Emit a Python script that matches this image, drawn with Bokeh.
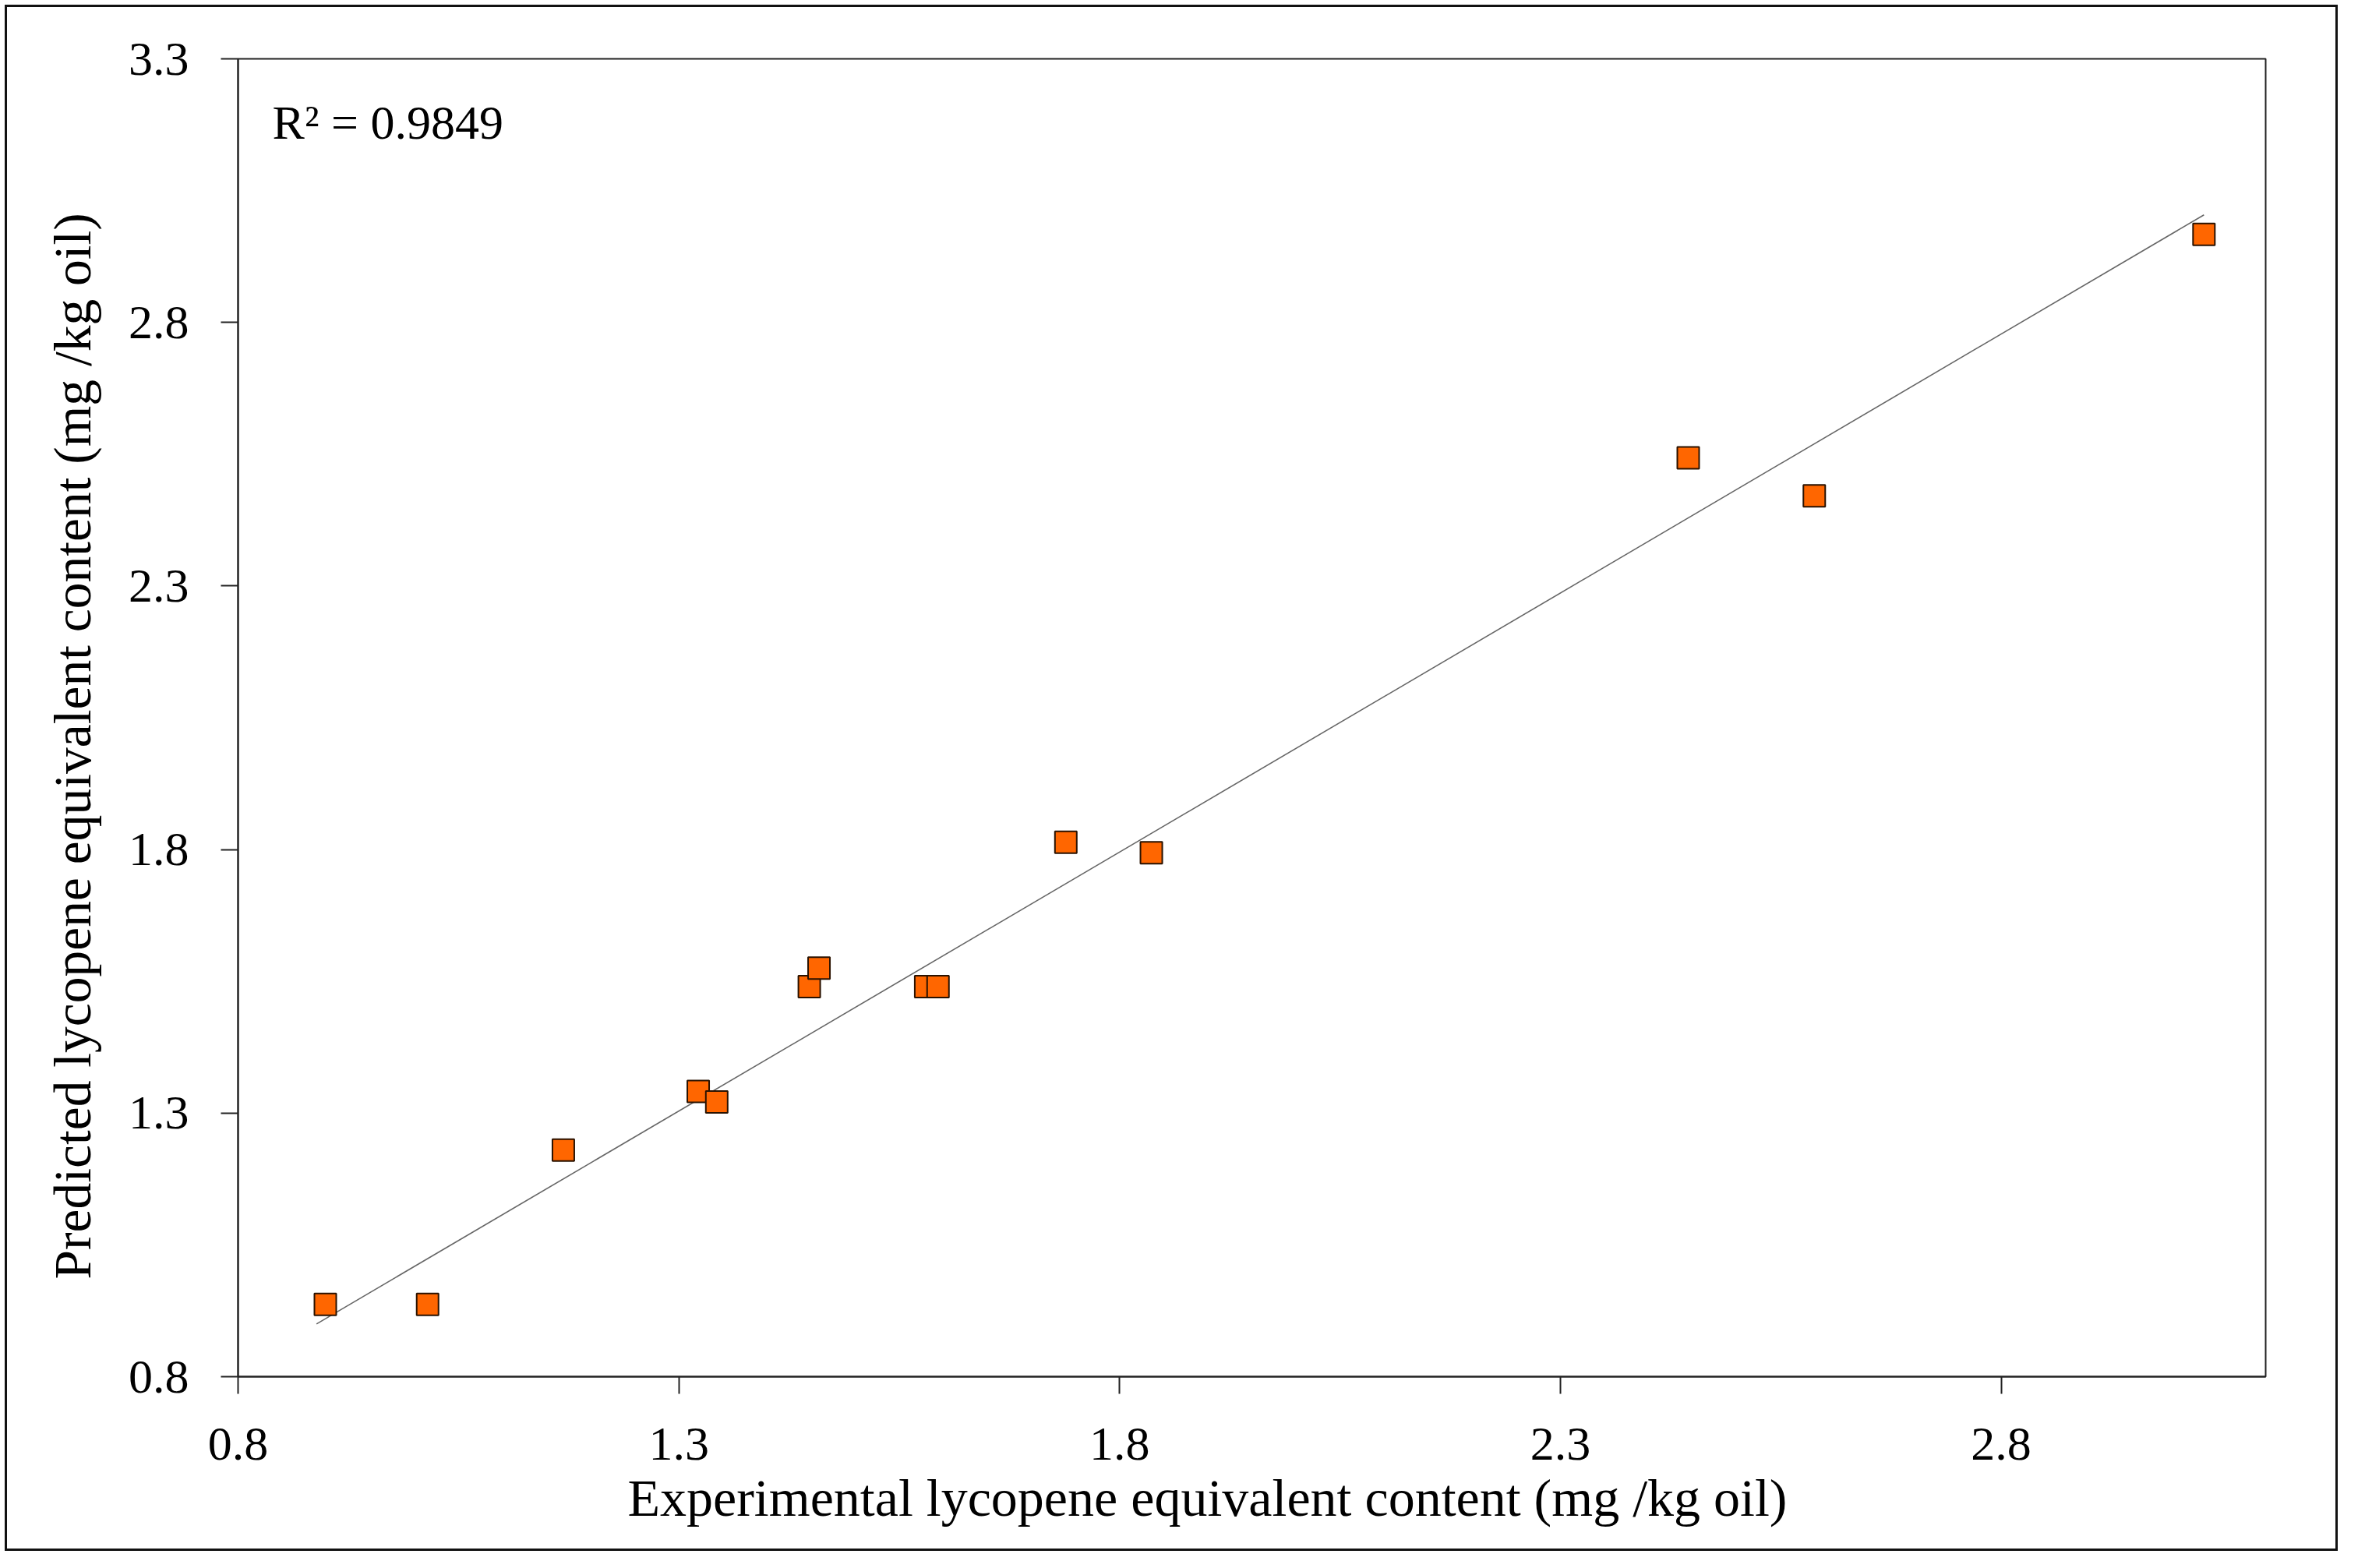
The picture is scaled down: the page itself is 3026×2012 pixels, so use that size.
from bokeh.plotting import figure
from bokeh.models import Label, FixedTicker, Range1d, InlineStyleSheet, Title
from bokeh.embed import file_html
from bokeh.resources import INLINE

# Data
experimental = [0.899, 1.015, 1.169, 1.322, 1.343, 1.448, 1.459, 1.580, 1.594, 1.739, 1.836, 2.445, 2.588, 3.030]
predicted = [0.937, 0.937, 1.230, 1.341, 1.321, 1.540, 1.575, 1.540, 1.540, 1.814, 1.794, 2.543, 2.471, 2.967]
trend_x = [0.889, 3.030]
trend_y = [0.900, 3.004]
x_ticks = [0.8, 1.3, 1.8, 2.3, 2.8]
x_tick_labels = ["0.8", "1.3", "1.8", "2.3", "2.8"]
y_ticks = [0.8, 1.3, 1.8, 2.3, 2.8, 3.3]
y_tick_labels = ["0.8", "1.3", "1.8", "2.3", "2.8", "3.3"]
r2_text = "R\u00b2 = 0.9849"
x_title = "Experimental lycopene equivalent content (mg /kg oil)"
y_title = "Predicted lycopene equivalent content (mg /kg oil)"

FONT = "Liberation Serif"
AX = "#222222"

p = figure(width=3006, height=1996, output_backend="svg", toolbar_location=None,
           x_range=Range1d(0.8, 3.1), y_range=Range1d(0.8, 3.3),
           min_border_left=305, min_border_right=99, min_border_top=75, min_border_bottom=230,
           background_fill_color="white", border_fill_color="white")
p.stylesheets = [InlineStyleSheet(css=(
    ":host { position: relative; }\n"
    ":host::after { content: ''; position: absolute; left: 6px; top: 6px; right: 6px; bottom: 6px; "
    "border: 3px solid #111111; z-index: 1000; pointer-events: none; }"))]

p.grid.visible = False
p.outline_line_color = AX
p.outline_line_width = 2
p.outline_line_alpha = 1

for ax, ticks, labels in ((p.xaxis[0], x_ticks, x_tick_labels), (p.yaxis[0], y_ticks, y_tick_labels)):
    ax.ticker = FixedTicker(ticks=ticks)
    ax.major_label_overrides = {t: l for t, l in zip(ticks, labels)}
    ax.minor_tick_line_color = None
    ax.major_tick_in = 0
    ax.major_tick_out = 22
    ax.major_tick_line_color = AX
    ax.major_tick_line_width = 2
    ax.axis_line_color = AX
    ax.axis_line_width = 2
    ax.major_label_text_font = FONT
    ax.major_label_text_font_size = "62px"
    ax.major_label_text_color = "black"

p.xaxis.major_label_standoff = 44
p.yaxis.major_label_standoff = 41

# Axis titles (offset from centre as in the reference)
p.add_layout(Title(text=x_title, align="left", offset=500, standoff=13,
                   text_font=FONT, text_font_size="68px", text_font_style="normal",
                   text_color="black"), "below")
p.add_layout(Title(text=y_title, align="left", offset=125, standoff=62,
                   text_font=FONT, text_font_size="67.5px", text_font_style="normal",
                   text_color="black"), "left")

p.line(trend_x, trend_y, line_color="#666666", line_width=1.6)
p.scatter(experimental, predicted, marker="square", size=28,
          fill_color="#FF6600", line_color="#2a1200", line_width=2)

p.add_layout(Label(x=0.839, y=3.18, text=r2_text, text_font=FONT, text_font_size="62px",
                   text_color="black", text_baseline="alphabetic"))

open("out.html", "w").write(file_html(p, INLINE))
